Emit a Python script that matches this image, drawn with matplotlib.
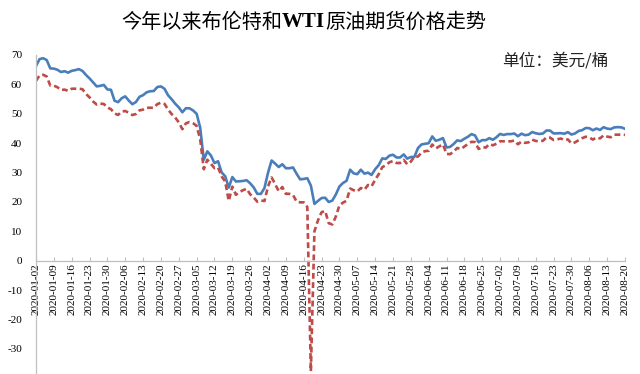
import pandas as pd
import matplotlib
matplotlib.use('Agg')
import matplotlib.pyplot as plt

# ── 数据：2020-01-02 至 2020-08-20 所有工作日（节假日沿用前值）──
dates = pd.bdate_range('2020-01-02', '2020-08-20')

brent = [
    66.25, 68.60,
    68.91, 68.27, 65.44, 65.37, 64.98,
    64.20, 64.49, 64.00, 64.62, 64.85,
    65.20, 64.59, 63.21, 62.04, 60.69,
    59.32, 59.51, 59.81, 58.29, 58.16,
    54.45, 53.96, 55.28, 55.93, 54.47,
    53.27, 54.01, 55.79, 56.34, 57.32,
    57.67, 57.75, 59.12, 59.31, 58.50,
    56.30, 54.95, 53.43, 52.18, 50.52,
    51.90, 51.86, 51.13, 49.99, 45.27,
    34.36, 37.22, 35.79, 33.22, 33.85,
    30.05, 28.73, 24.88, 28.47, 26.98,
    27.03, 27.15, 27.39, 26.34, 24.93,
    22.76, 22.74, 24.74, 29.94, 34.11,
    33.05, 31.87, 32.84, 31.48, 31.48,
    31.74, 29.60, 27.69, 27.82, 28.08,
    25.57, 19.33, 20.37, 21.33, 21.44,
    19.99, 20.46, 22.54, 25.27, 26.44,
    27.20, 30.97, 29.72, 29.46, 30.97,
    29.63, 29.98, 29.19, 31.13, 32.50,
    34.81, 34.65, 35.75, 36.06, 35.13,
    35.13, 36.17, 34.74, 35.29, 35.33,
    38.32, 39.57, 39.79, 39.99, 42.30,
    40.80, 41.18, 41.73, 38.55, 38.73,
    39.72, 40.96, 40.71, 41.51, 42.19,
    43.08, 42.63, 40.31, 41.05, 41.02,
    41.71, 41.15, 42.03, 43.14, 42.80,
    43.10, 43.08, 43.29, 42.35, 43.24,
    42.72, 42.90, 43.79, 43.37, 43.14,
    43.28, 44.32, 44.29, 43.31, 43.34,
    43.41, 43.22, 43.75, 42.94, 43.30,
    44.15, 44.43, 45.17, 45.09, 44.40,
    44.99, 44.50, 45.43, 44.96, 44.80,
    45.37, 45.46, 45.37, 44.90,
]

wti = [
    61.18, 63.05,
    63.27, 62.70, 59.61, 59.56, 59.04,
    58.08, 58.23, 57.81, 58.52, 58.54,
    58.54, 58.38, 56.74, 55.59, 54.19,
    53.14, 53.48, 53.33, 52.14, 51.56,
    50.11, 49.61, 50.75, 50.95, 50.32,
    49.57, 49.94, 51.17, 51.42, 52.05,
    52.05, 52.05, 53.29, 53.78, 53.38,
    51.43, 49.90, 48.73, 47.09, 44.76,
    46.75, 47.18, 46.78, 45.90, 41.28,
    31.13, 34.36, 32.98, 31.50, 31.73,
    28.70, 26.95, 20.37, 25.22, 22.43,
    23.36, 24.01, 24.49, 22.60, 21.51,
    20.09, 20.48, 20.31, 25.32, 28.34,
    26.08, 23.63, 25.09, 22.76, 22.76,
    22.41, 20.11, 19.87, 19.87, 18.27,
    -37.63, 10.01, 13.78, 16.50, 16.94,
    12.78, 12.34, 15.06, 18.84, 19.78,
    20.39, 24.56, 23.99, 23.55, 24.74,
    24.14, 25.78, 25.29, 27.56, 29.43,
    31.82, 32.50, 33.49, 33.92, 33.25,
    33.25, 34.35, 32.81, 33.71, 35.49,
    35.44, 36.81, 37.29, 37.41, 39.55,
    38.19, 38.94, 39.60, 36.34, 36.26,
    37.12, 38.38, 37.96, 38.84, 39.75,
    40.46, 40.37, 38.01, 38.72, 38.49,
    39.70, 39.27, 39.82, 40.65, 40.65,
    40.63, 40.62, 40.90, 39.62, 40.55,
    40.10, 40.29, 41.20, 40.75, 40.59,
    40.81, 41.96, 41.90, 41.07, 41.29,
    41.60, 41.04, 41.27, 39.92, 40.27,
    41.01, 41.70, 42.19, 41.95, 41.22,
    41.94, 41.61, 42.67, 42.24, 42.01,
    42.89, 42.89, 42.93, 42.82,
]

tick_step = 5
y_ticks = [-30, -20, -10, 0, 10, 20, 30, 40, 50, 60, 70]

title_parts = ['今年以来布伦特和', 'WTI', '原油期货价格走势']
unit_text = '单位：美元/桶'

BRENT_COLOR = '#4a7ebb'
WTI_COLOR = '#be4b48'
AXIS_COLOR = '#bfbfbf'
CJK = ['Noto Sans CJK SC', 'DejaVu Sans']
SERIF = 'Liberation Serif'

W, H = 640, 374
fig = plt.figure(figsize=(W / 100, H / 100), dpi=100)

# 坐标轴区域（像素换算），-40 落在图片下边缘之外
x0, x1 = 36, 625
y_top, y_bot = 55, 378.3
ax = fig.add_axes([x0 / W, (H - y_bot) / H, (x1 - x0) / W, (y_bot - y_top) / H])

x = list(range(len(dates)))
ax.plot(x, brent, color=BRENT_COLOR, linewidth=1.9, solid_joinstyle='round')
ax.plot(x, wti, color=WTI_COLOR, linewidth=1.9, linestyle=(0, (2.2, 1.3)))

ax.set_xlim(0, len(dates) - 1)
ax.set_ylim(-40, 70)

for s in ['top', 'right']:
    ax.spines[s].set_visible(False)
ax.spines['bottom'].set_position(('data', 0))
for s in ['bottom', 'left']:
    ax.spines[s].set_color(AXIS_COLOR)
    ax.spines[s].set_linewidth(0.9)

xt = x[::tick_step]
ax.set_xticks(xt)
ax.set_xticklabels([dates[i].strftime('%Y-%m-%d') for i in xt],
                   rotation=90, fontsize=8, family=SERIF, va='top')
ax.tick_params(axis='x', direction='in', length=3, color=AXIS_COLOR, pad=2)

ax.set_yticks(y_ticks)
ax.set_yticklabels([str(v) for v in y_ticks], fontsize=8, family=SERIF)
ax.tick_params(axis='y', length=0, pad=10)

# 标题：中文 + 粗体 WTI + 中文
t1 = fig.text(121 / W, 1 - 22 / H, title_parts[0], fontsize=14.5,
              family=CJK, va='center', ha='left')
t2 = plt.annotate(title_parts[1], xy=(1, 0.5), xycoords=t1, fontsize=15,
                  family=SERIF, weight='bold', va='center', ha='left',
                  annotation_clip=False)
plt.annotate(title_parts[2], xy=(1, 0.5), xycoords=t2, fontsize=14.5,
             family=CJK, va='center', ha='left', annotation_clip=False)

fig.text(608 / W, 1 - 61.5 / H, unit_text, fontsize=12, family=CJK,
         ha='right', va='center', color='#222222')

fig.savefig('out.png', dpi=100)
